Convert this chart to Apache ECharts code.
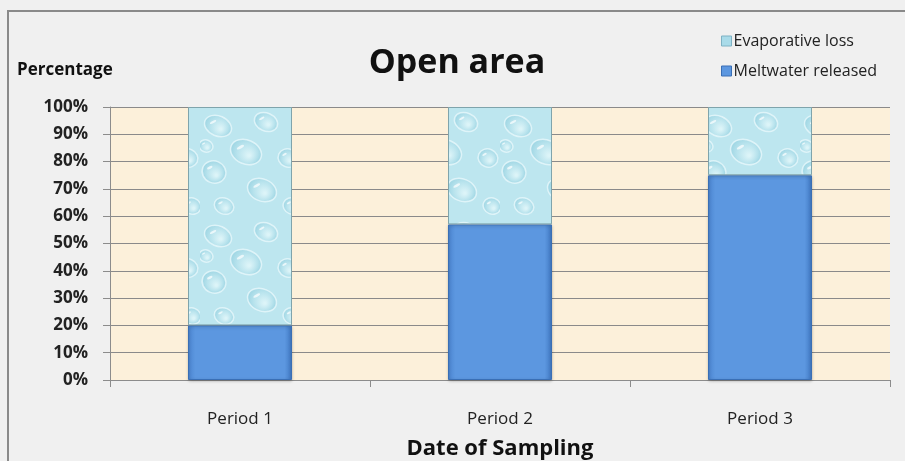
<!DOCTYPE html>
<html>
<head>
<meta charset="utf-8">
<script src="https://cdn.jsdelivr.net/npm/echarts@6/dist/echarts.min.js"></script>
<style>
  html, body { margin: 0; padding: 0; background: #f0f0f0; }
  #chart { width: 905px; height: 461px; }
</style>
</head>
<body>
<div id="chart"></div>
<script>
// Share of water per sampling period (percent of total)
const periods = ['Period 1', 'Period 2', 'Period 3'];
const meltwaterReleased = [20, 57, 75];
const evaporativeLoss = [80, 43, 25];
const yTicks = [0, 10, 20, 30, 40, 50, 60, 70, 80, 90, 100];

const FONT = '"Open Sans", Lato, sans-serif';

// Soft water-droplet texture for the evaporative part of each bar
function makeWaterTexture() {
  const c = document.createElement('canvas');
  c.width = 100; c.height = 110;
  const g = c.getContext('2d');
  g.fillStyle = '#bde6ef';
  g.fillRect(0, 0, 100, 110);
  const drops = [
    [18, 16, 14, 10], [66, 12, 12, 9], [46, 42, 16, 12], [88, 48, 10, 9],
    [14, 62, 12, 11], [62, 80, 15, 11], [24, 96, 10, 8], [92, 96, 9, 8], [6, 36, 7, 6]
  ];
  drops.forEach(([x, y, rx, ry]) => {
    const grd = g.createRadialGradient(x + rx * 0.2, y + ry * 0.3, 1, x, y, rx);
    grd.addColorStop(0, '#dcf4f8');
    grd.addColorStop(0.6, '#b8e3ed');
    grd.addColorStop(1, '#9dd5e3');
    g.fillStyle = grd;
    g.beginPath();
    g.ellipse(x, y, rx, ry, 0.4, 0, Math.PI * 2);
    g.fill();
    g.strokeStyle = 'rgba(236,250,252,0.75)';
    g.lineWidth = 1.5;
    g.stroke();
    g.fillStyle = 'rgba(255,255,255,0.7)';
    g.beginPath();
    g.ellipse(x - rx * 0.35, y - ry * 0.4, rx * 0.25, ry * 0.12, -0.5, 0, Math.PI * 2);
    g.fill();
  });
  return c;
}

const chart = echarts.init(document.getElementById('chart'), null, { renderer: 'canvas' });

const blueFill = new echarts.graphic.LinearGradient(0, 0, 1, 0, [
  { offset: 0, color: '#4a84cf' },
  { offset: 0.07, color: '#5c97e0' },
  { offset: 0.93, color: '#5c97e0' },
  { offset: 1, color: '#3f78c2' }
]);

chart.setOption({
  backgroundColor: '#f0f0f0',
  animation: false,
  title: {
    text: 'Open area',
    left: 452,
    top: 41,
    textAlign: 'center',
    textStyle: { fontFamily: FONT, fontSize: 34, fontWeight: 'bold', color: '#111' }
  },
  legend: {
    orient: 'vertical',
    left: 716,
    top: 28,
    itemWidth: 10,
    itemHeight: 10,
    itemGap: 14,
    icon: 'rect',
    data: [
      { name: 'Evaporative loss', itemStyle: { color: '#a9dbe9', borderColor: '#7fb2c4', borderWidth: 1 } },
      { name: 'Meltwater released', itemStyle: { color: '#5c97e0', borderColor: '#3a6fb5', borderWidth: 1 } }
    ],
    textStyle: { fontFamily: FONT, fontSize: 16, color: '#222', padding: [0, 0, 0, -3] }
  },
  grid: {
    left: 110, right: 15, top: 107, bottom: 81,
    outerBoundsMode: 'none',
    containLabel: false,
    show: true, backgroundColor: '#fcf0da', borderWidth: 0
  },
  graphic: [
    {
      type: 'rect',
      shape: { x: 8, y: 11, width: 920, height: 480 },
      style: { fill: 'none', stroke: '#8a8a8a', lineWidth: 2 },
      z: 100
    },
    {
      type: 'text',
      left: 17,
      top: 62,
      style: { text: 'Percentage', font: 'bold 17px ' + FONT, fill: '#111' }
    }
  ],
  xAxis: {
    type: 'category',
    data: periods,
    name: 'Date of Sampling',
    nameLocation: 'middle',
    nameGap: 58,
    nameTextStyle: { fontFamily: FONT, fontSize: 22, fontWeight: 'bold', color: '#111' },
    axisLine: { lineStyle: { color: '#8c8c8c', width: 1 } },
    axisTick: { show: true, inside: false, length: 7, alignWithLabel: false, lineStyle: { color: '#8c8c8c' } },
    axisLabel: { margin: 31, fontFamily: FONT, fontSize: 17, color: '#222' }
  },
  yAxis: {
    type: 'value',
    min: 0,
    max: 100,
    interval: 10,
    axisLine: { show: true, lineStyle: { color: '#8c8c8c', width: 1 } },
    axisTick: { show: true, length: 7, lineStyle: { color: '#8c8c8c' } },
    splitLine: { show: true, lineStyle: { color: '#8a8a8a', width: 1 } },
    axisLabel: {
      margin: 22,
      fontFamily: FONT,
      fontSize: 17,
      fontWeight: 'bold',
      color: '#222',
      formatter: v => (yTicks.includes(v) ? v + '%' : '')
    }
  },
  series: [
    {
      name: 'Meltwater released',
      type: 'bar',
      stack: 'total',
      barWidth: '40%',
      data: meltwaterReleased,
      itemStyle: {
        color: blueFill,
        borderColor: '#3a6fb5',
        borderWidth: 1,
        shadowColor: 'rgba(0,0,0,0.25)',
        shadowBlur: 3,
        shadowOffsetY: 1
      }
    },
    {
      name: 'Evaporative loss',
      type: 'bar',
      stack: 'total',
      barWidth: '40%',
      data: evaporativeLoss,
      itemStyle: {
        color: { image: makeWaterTexture(), repeat: 'repeat' },
        borderColor: '#7fa4ac',
        borderWidth: 1
      }
    }
  ]
});
</script>
</body>
</html>
